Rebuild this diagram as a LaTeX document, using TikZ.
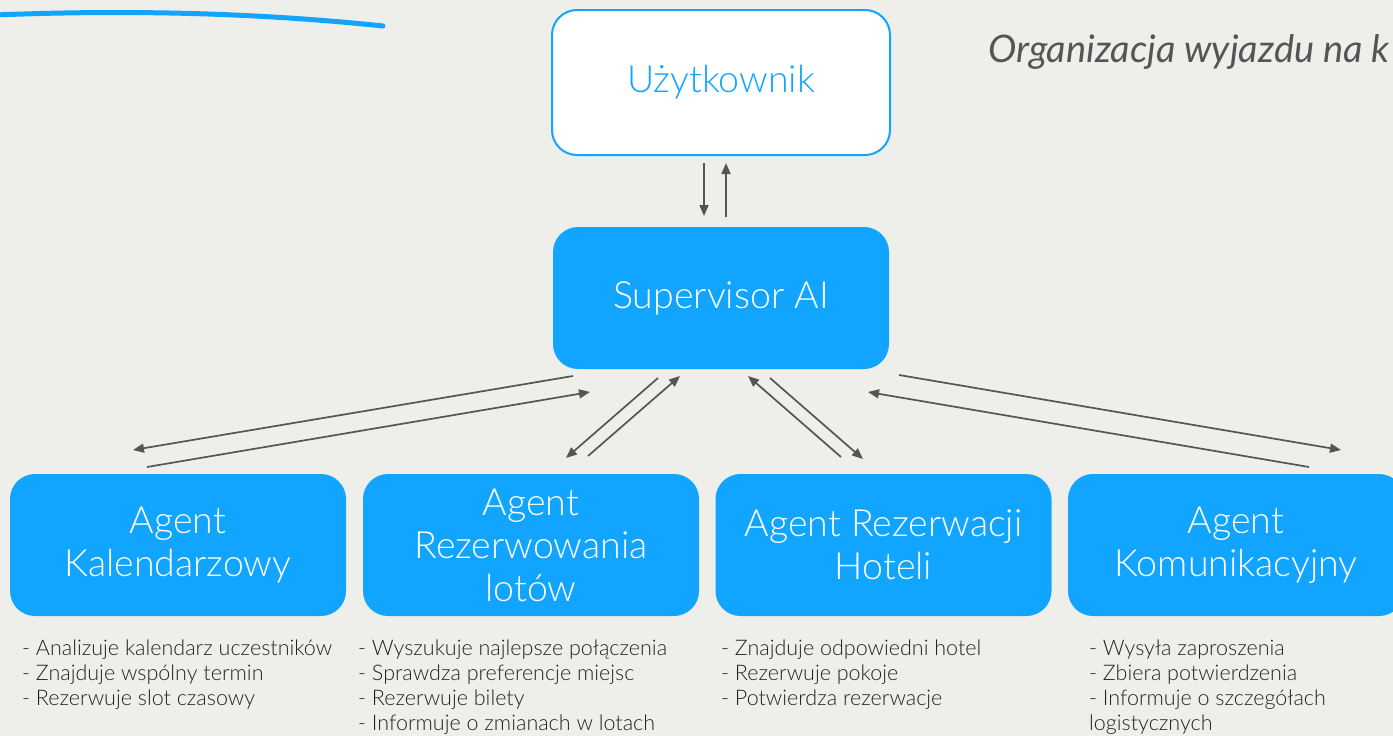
\documentclass[tikz,border=0pt]{standalone}
\usepackage{fontspec}
\setmainfont{Lato}[UprightFont=* Light, ItalicFont=* Italic]
\usetikzlibrary{arrows.meta,calc}
\definecolor{bg}{HTML}{EEEFEA}
\definecolor{ablue}{HTML}{12A5FF}
\definecolor{agray}{HTML}{555555}
\definecolor{txt}{HTML}{222222}
\begin{document}
\begin{tikzpicture}[x=1pt,y=-1pt,
  box/.style={rounded corners=25pt, minimum width=336pt, minimum height=142pt, fill=ablue, text=white, align=center, font=\fontsize{37.5}{43}\selectfont, inner sep=0pt},
  arr/.style={draw=agray, line width=1.7pt, -{Triangle[length=11pt,width=9pt]}},
  desc/.style={anchor=north west, align=left, text=txt, font=\fontsize{21.5}{25}\selectfont, inner sep=0pt}]
\fill[bg] (0,0) rectangle (1393,736);
\useasboundingbox (0,0) rectangle (1393,736);

\draw[ablue, line width=5pt, line cap=round] (-5,15) .. controls (120,10) and (250,12) .. (383,26);
\node[anchor=base west, text=agray, font=\fontsize{38}{42}\selectfont\itshape, inner sep=0pt] (title) at (988,62) {Organizacja wyjazdu na k};

\node[box, fill=white, draw=ablue, line width=2pt, text=ablue, minimum width=338pt, minimum height=145pt] (user) at (721,82.5) {Użytkownik};
\node[box] (sup) at (721,298) {Supervisor AI};
\node[box] (a1) at (178,545) {Agent\\Kalendarzowy};
\node[box] (a2) at (531,545) {Agent\\Rezerwowania\\lotów};
\node[box] (a3) at (883.5,545) {Agent Rezerwacji\\Hoteli};
\node[box] (a4) at (1236,545) {Agent\\Komunikacyjny};

\coordinate (u1) at (704,163); \coordinate (s1) at (704,216);
\coordinate (s2) at (726,217); \coordinate (u2) at (726,163);
\draw[arr] (u1) -- (s1);
\draw[arr] (s2) -- (u2);

\coordinate (p1) at (573,376); \coordinate (q1) at (133,450);
\coordinate (p2) at (147,467); \coordinate (q2) at (590,392);
\coordinate (p3) at (658,378); \coordinate (q3) at (566,458);
\coordinate (p4) at (588,456); \coordinate (q4) at (680,376);
\coordinate (p5) at (841,457); \coordinate (q5) at (748,376);
\coordinate (p6) at (770,378); \coordinate (q6) at (863,459);
\coordinate (p7) at (899,375); \coordinate (q7) at (1341,450);
\coordinate (p8) at (1309,467); \coordinate (q8) at (868,392);
\foreach \i in {1,...,8} {\draw[arr] (p\i) -- (q\i);}

\node[desc] (d1) at (22,640) {- Analizuje kalendarz uczestników\\- Znajduje wspólny termin\\- Rezerwuje slot czasowy};
\node[desc] (d2) at (358,640) {- Wyszukuje najlepsze połączenia\\- Sprawdza preferencje miejsc\\- Rezerwuje bilety\\- Informuje o zmianach w lotach};
\node[desc] (d3) at (721,640) {- Znajduje odpowiedni hotel\\- Rezerwuje pokoje\\- Potwierdza rezerwacje};
\node[desc] (d4) at (1089,640) {- Wysyła zaproszenia\\- Zbiera potwierdzenia\\- Informuje o szczegółach\\logistycznych};
\end{tikzpicture}
\end{document}
